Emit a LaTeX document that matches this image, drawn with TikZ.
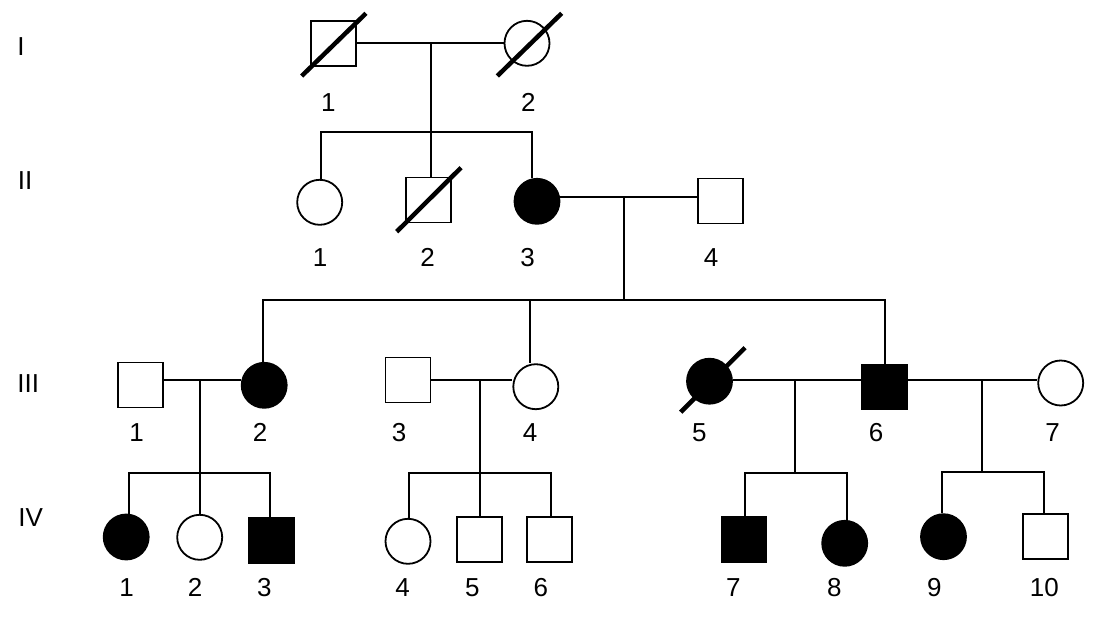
\documentclass[tikz,border=0pt]{standalone}
\usepackage{fontspec}
\setmainfont{Liberation Sans}
\begin{document}
\begin{tikzpicture}[x=1pt,y=-1pt]
\tikzset{
  ln/.style={line width=1.8pt},
  male/.style={draw, rectangle, minimum size=45pt, inner sep=0pt, line width=1.8pt},
  female/.style={draw, circle, minimum size=45pt, inner sep=0pt, line width=1.8pt},
  aff/.style={fill=black},
  dead/.style={line width=4.5pt},
  lbl/.style={font=\fontsize{26}{31}\selectfont, inner sep=0pt, anchor=base},
}
\useasboundingbox (0,0) rectangle (1108,624);
\fill[white] (0,0) rectangle (1108,624);

% generation labels (baselines)
\node[lbl] (gI) at (21,55.5) {I};
\node[lbl] (gII) at (25,189.5) {II};
\node[lbl] (gIII) at (28.3,392) {III};
\node[lbl] (gIV) at (30.7,526) {IV};

% generation I
\node[male] (I1) at (333.7,43.3) {};
\node[female] (I2) at (527,43.3) {};
\node[lbl] (lI1) at (328.3,111.8) {1};
\node[lbl] (lI2) at (528.3,111.8) {2};

% generation II
\node[female] (II1) at (319.7,202.3) {};
\node[male] (II2) at (428.7,200) {};
\node[female,aff] (II3) at (537,201.3) {};
\node[male] (II4) at (720.8,201) {};
\node[lbl] (lII1) at (320,266.5) {1};
\node[lbl] (lII2) at (427.7,266.5) {2};
\node[lbl] (lII3) at (527.7,266.5) {3};
\node[lbl] (lII4) at (711,266.7) {4};

% generation III
\node[male] (III1) at (140.3,385) {};
\node[female,aff] (III2) at (264.2,385.3) {};
\node[male] (III3) at (408,380) {};
\node[female] (III4) at (535.8,386.7) {};
\node[female,aff] (III5) at (709.5,381.2) {};
\node[male,aff] (III6) at (884.5,387) {};
\node[female] (III7) at (1060.7,383) {};
\node[lbl] (lIII1) at (136.7,441.8) {1};
\node[lbl] (lIII2) at (260,441.8) {2};
\node[lbl] (lIII3) at (399,441.8) {3};
\node[lbl] (lIII4) at (530,441.8) {4};
\node[lbl] (lIII5) at (699.3,441.8) {5};
\node[lbl] (lIII6) at (876,441.8) {6};
\node[lbl] (lIII7) at (1052.7,441.8) {7};

% generation IV
\node[female,aff] (IV1) at (126.2,537) {};
\node[female] (IV2) at (199.7,537.3) {};
\node[male,aff] (IV3) at (271.2,540.3) {};
\node[female] (IV4) at (408,541.3) {};
\node[male] (IV5) at (479.5,539.7) {};
\node[male] (IV6) at (549.2,539.3) {};
\node[male,aff] (IV7) at (744,539.3) {};
\node[female,aff] (IV8) at (844.7,543.3) {};
\node[female,aff] (IV9) at (943.5,536.7) {};
\node[male] (IV10) at (1045.8,536.3) {};
\node[lbl] (lIV1) at (126.7,596.3) {1};
\node[lbl] (lIV2) at (195,596.3) {2};
\node[lbl] (lIV3) at (264.3,596.3) {3};
\node[lbl] (lIV4) at (402.7,596.3) {4};
\node[lbl] (lIV5) at (472.3,596.3) {5};
\node[lbl] (lIV6) at (540.8,596.3) {6};
\node[lbl] (lIV7) at (733.3,596.3) {7};
\node[lbl] (lIV8) at (834.3,596.3) {8};
\node[lbl] (lIV9) at (934.3,596.3) {9};
\node[lbl] (lIV10) at (1044.3,596.3) {10};

% deceased slashes
\draw[dead] ([shift={(-32,32.7)}]I1.center) -- ([shift={(32.3,-30)}]I1.center);
\draw[dead] ([shift={(-29.7,32.7)}]I2.center) -- ([shift={(34.7,-30)}]I2.center);
\draw[dead] ([shift={(-32,31.7)}]II2.center) -- ([shift={(32.3,-32.3)}]II2.center);
\draw[dead] ([shift={(-28.8,31)}]III5.center) -- ([shift={(35.5,-33.5)}]III5.center);

% I marriage and offspring
\coordinate (m1) at (430.7,42.7);
\coordinate (s1l) at (320.7,132.3);
\coordinate (s1r) at (531.7,132.3);
\draw[ln] (I1.east |- m1) -- (I2.west |- m1);
\draw[ln] (m1) -- (m1 |- II2.north);
\draw[ln] (s1l |- II1.north) -- (s1l) -- (s1r) -- (s1r |- II3.north);

% II marriage and offspring
\coordinate (m2) at (624,196.7);
\coordinate (s2l) at (263.3,299.7);
\coordinate (s2m) at (530,299.7);
\coordinate (s2r) at (885,299.7);
\draw[ln] (II3.east |- m2) -- (II4.west |- m2);
\draw[ln] (m2) -- (m2 |- s2l);
\draw[ln] (s2l |- III2.north) -- (s2l) -- (s2r) -- (s2r |- III6.north);
\draw[ln] (s2m) -- (s2m |- III4.north);

% III-1 x III-2
\coordinate (m3) at (200,380);
\coordinate (s3l) at (129.3,473.3);
\coordinate (s3r) at (270,473.3);
\draw[ln] (III1.east |- m3) -- (III2.west |- m3);
\draw[ln] (m3) -- (m3 |- IV2.north);
\draw[ln] (s3l |- IV1.north) -- (s3l) -- (s3r) -- (s3r |- IV3.north);

% III-3 x III-4
\coordinate (m4) at (480,380);
\coordinate (s4l) at (409.3,473.3);
\coordinate (s4r) at (551,473.3);
\draw[ln] (III3.east |- m4) -- (III4.west |- m4);
\draw[ln] (m4) -- (m4 |- IV5.north);
\draw[ln] (s4l |- IV4.north) -- (s4l) -- (s4r) -- (s4r |- IV6.north);

% III-5 x III-6
\coordinate (m5) at (795,380);
\coordinate (s5l) at (745,472.7);
\coordinate (s5r) at (846.7,472.7);
\draw[ln] (III5.east |- m5) -- (III6.west |- m5);
\draw[ln] (m5) -- (m5 |- s5l);
\draw[ln] (s5l |- IV7.north) -- (s5l) -- (s5r) -- (s5r |- IV8.north);

% III-6 x III-7
\coordinate (m6) at (981.7,380);
\coordinate (s6l) at (942.3,471.7);
\coordinate (s6r) at (1044,471.7);
\draw[ln] (III6.east |- m6) -- (III7.west |- m6);
\draw[ln] (m6) -- (m6 |- s6l);
\draw[ln] (s6l |- IV9.north) -- (s6l) -- (s6r) -- (s6r |- IV10.north);
\end{tikzpicture}
\end{document}
